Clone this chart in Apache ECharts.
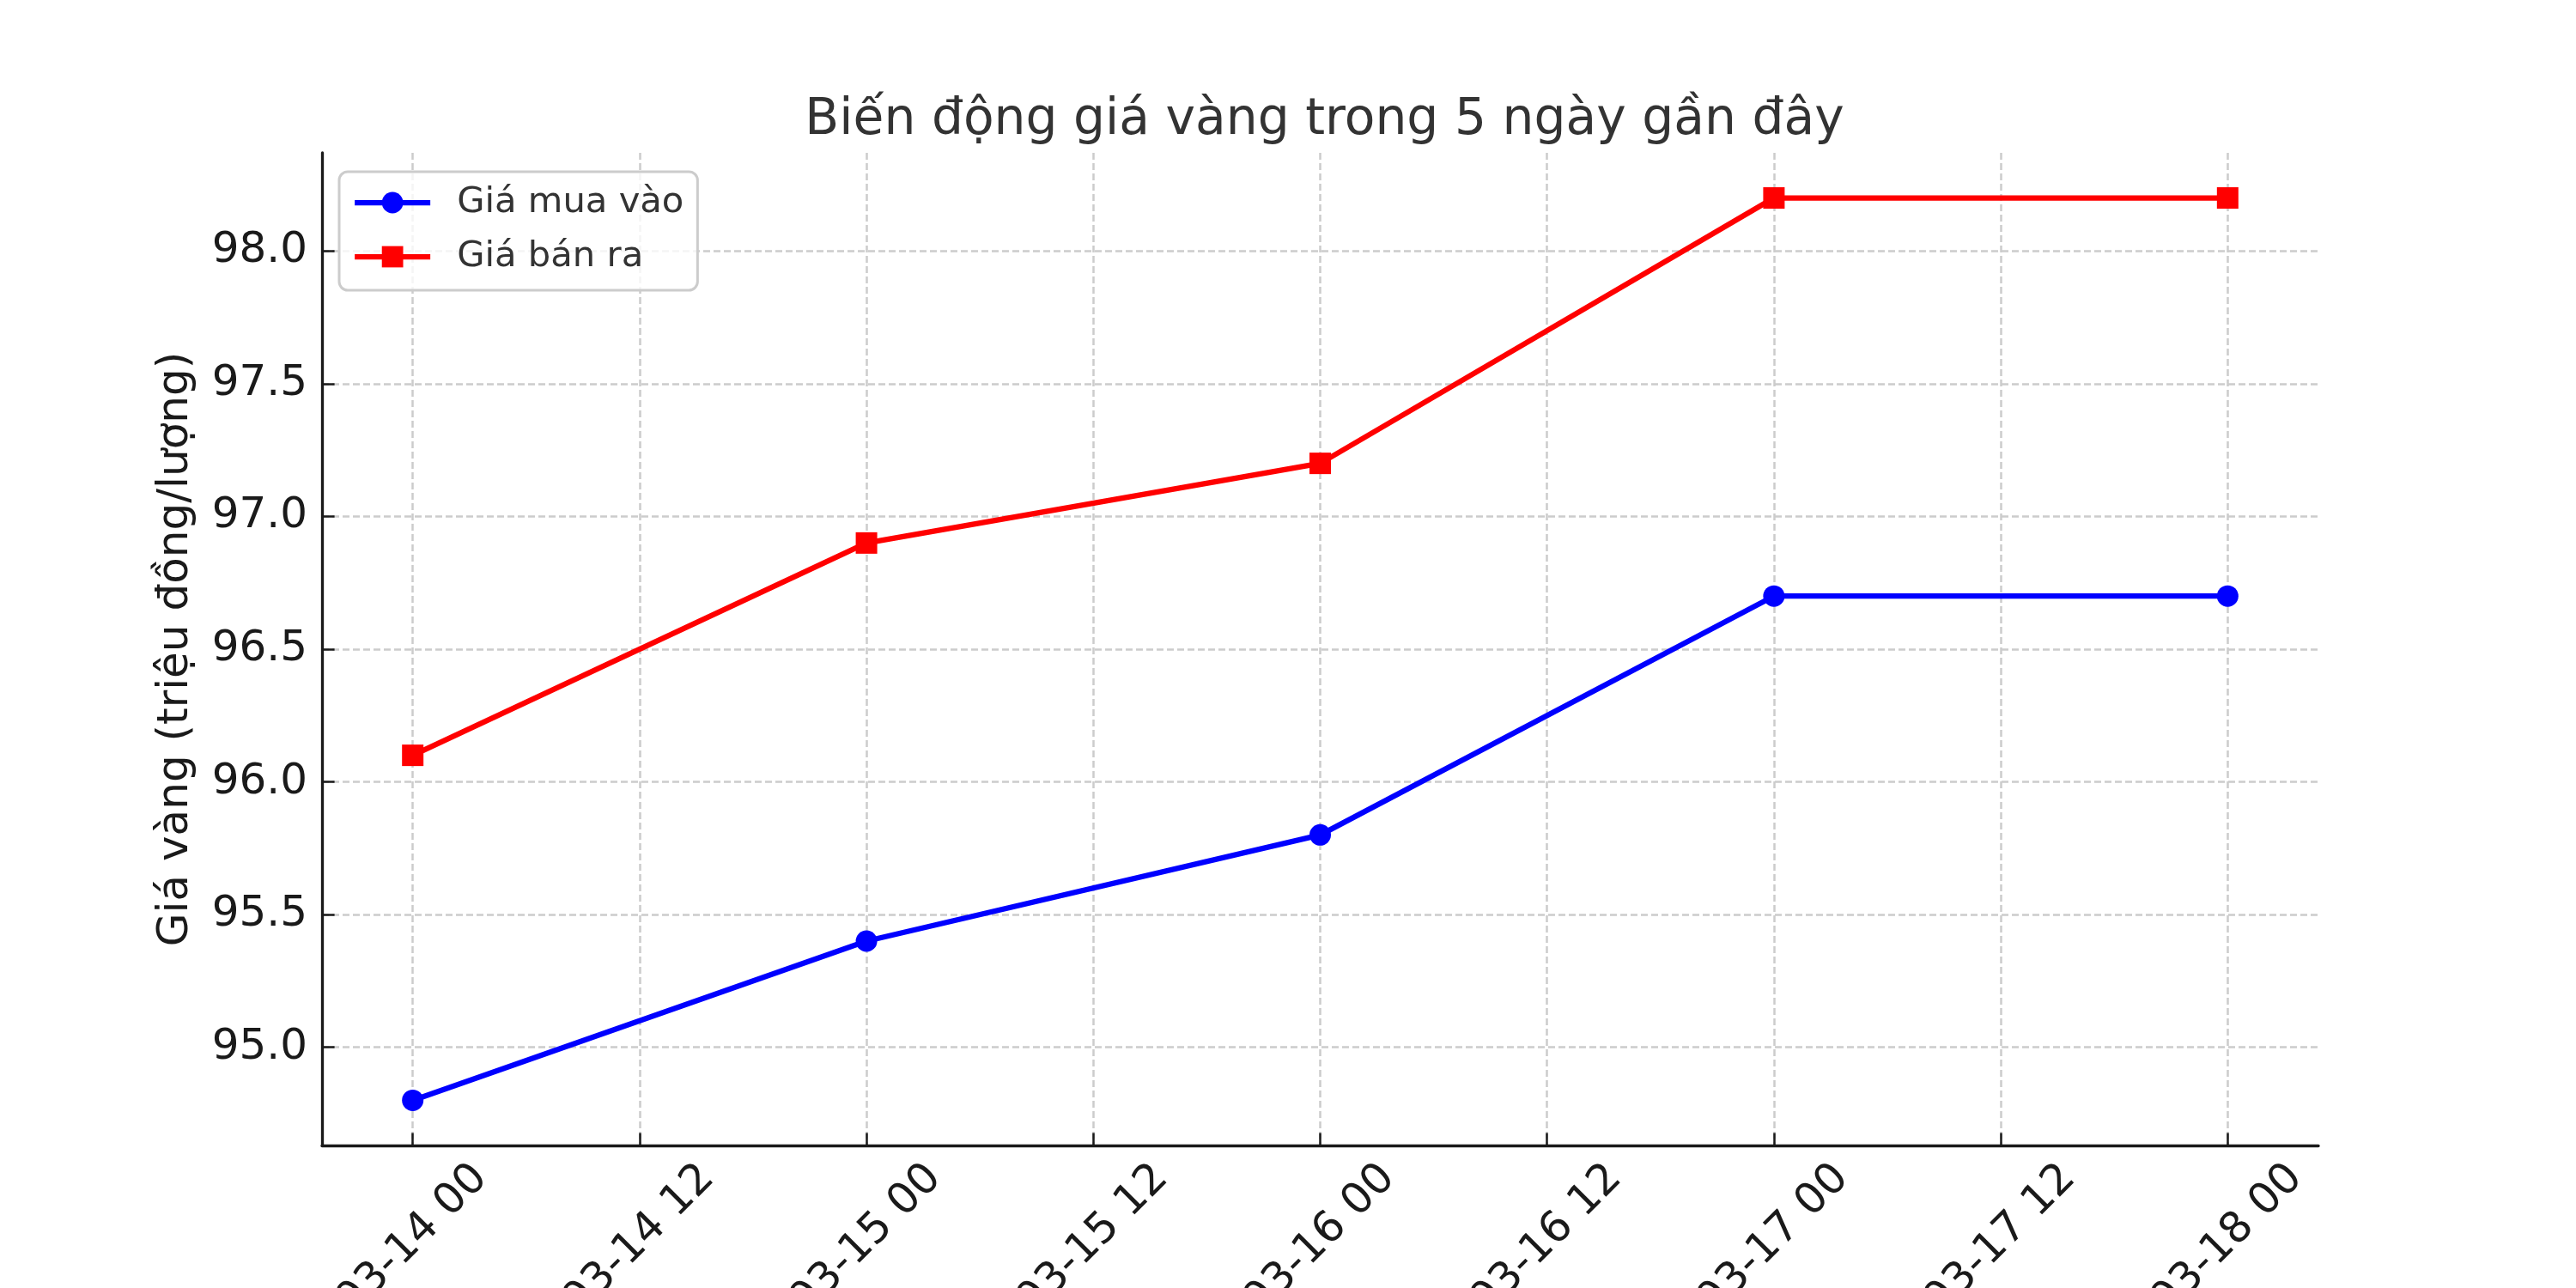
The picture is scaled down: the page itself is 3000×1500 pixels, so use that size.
<!DOCTYPE html>
<html><head><meta charset="utf-8">
<script src="https://cdn.jsdelivr.net/npm/echarts@6/dist/echarts.min.js"></script>
<style>html,body{margin:0;padding:0;background:#fff}#c{width:3000px;height:1500px}</style>
</head><body><div id="c"></div>
<script>
// ---- data ----
const dates = ['2025-03-14', '2025-03-15', '2025-03-16', '2025-03-17', '2025-03-18'];
const buyPrices = [94.8, 95.4, 95.8, 96.7, 96.7];   // Giá mua vào
const sellPrices = [96.1, 96.9, 97.2, 98.2, 98.2];  // Giá bán ra
const xTickTimes = ['2025-03-14T00', '2025-03-14T12', '2025-03-15T00', '2025-03-15T12', '2025-03-16T00',
                    '2025-03-16T12', '2025-03-17T00', '2025-03-17T12', '2025-03-18T00'];
const yTicks = [95.0, 95.5, 96.0, 96.5, 97.0, 97.5, 98.0];
const seriesNames = ['Giá mua vào', 'Giá bán ra'];
const titleText = 'Biến động giá vàng trong 5 ngày gần đây';
const yAxisName = 'Giá vàng (triệu đồng/lượng)';

// ---- helpers ----
function ts(s) {
  const [d, h] = s.split('T');
  const [y, m, dd] = d.split('-').map(Number);
  return Date.UTC(y, m - 1, dd, h ? Number(h) : 0);
}
function pad2(n) { return (n < 10 ? '0' : '') + n; }
function fmtX(v) {
  const d = new Date(v);
  return pad2(d.getUTCMonth() + 1) + '-' + pad2(d.getUTCDate()) + ' ' + pad2(d.getUTCHours());
}
const xs = dates.map(ts);
const xTicks = xTickTimes.map(ts);
const xSpan = xs[xs.length - 1] - xs[0];
const xMin = xs[0] - 0.05 * xSpan, xMax = xs[xs.length - 1] + 0.05 * xSpan;
const allY = buyPrices.concat(sellPrices);
const yLo = Math.min(...allY), yHi = Math.max(...allY), ySpan = yHi - yLo;
const yMin = yLo - 0.05 * ySpan, yMax = yHi + 0.05 * ySpan;

const FONT = 'DejaVu Sans';
const axisColor = '#1a1a1a';
const gridLine = { show: true, lineStyle: { type: [8, 4], color: '#cccccc', width: 2.5 } };

const chart = echarts.init(document.getElementById('c'), null, { renderer: 'canvas' });
chart.setOption({
  animation: false,
  backgroundColor: '#ffffff',
  title: {
    text: titleText, left: 1537.5, top: 107, textAlign: 'center',
    textStyle: { fontFamily: FONT, fontSize: 58.3, fontWeight: 'normal', color: '#333333' }
  },
  legend: {
    orient: 'vertical', left: 395, top: 200,
    itemWidth: 88, itemHeight: 31, itemGap: 21,
    padding: [15, 16, 18, 15],
    backgroundColor: 'rgba(255,255,255,0.8)', borderColor: '#cccccc', borderWidth: 3, borderRadius: 10,
    lineStyle: { width: 6.25 },
    textStyle: { fontFamily: FONT, fontSize: 41.7, color: '#333333', padding: [0, 0, 0, 26], lineHeight: 42 },
    data: seriesNames.map(n => ({ name: n, lineStyle: { width: 6.25 } }))
  },
  grid: { left: 375, right: 300, top: 178, bottom: 166, containLabel: false, outerBoundsMode: 'none' },
  xAxis: {
    type: 'value', min: xMin, max: xMax,
    axisLine: { show: true, onZero: false, lineStyle: { color: axisColor, width: 3.3 } },
    axisTick: { show: true, inside: true, length: 14.6, customValues: xTicks, lineStyle: { color: axisColor, width: 2.5 } },
    axisLabel: {
      customValues: xTicks, rotate: 45, align: 'center', verticalAlign: 'middle', margin: 110,
      fontFamily: FONT, fontSize: 50, color: axisColor, formatter: fmtX
    },
    splitLine: gridLine
  },
  yAxis: {
    type: 'value', min: yMin, max: yMax,
    name: yAxisName, nameLocation: 'middle', nameGap: 145,
    nameTextStyle: { fontFamily: FONT, fontSize: 50, color: axisColor },
    axisLine: { show: true, lineStyle: { color: axisColor, width: 3.3 } },
    axisTick: { show: true, inside: true, length: 14.6, customValues: yTicks, lineStyle: { color: axisColor, width: 2.5 } },
    axisLabel: {
      customValues: yTicks, margin: 17, fontFamily: FONT, fontSize: 50, color: axisColor,
      formatter: v => Number(v).toFixed(1)
    },
    splitLine: gridLine
  },
  series: [
    {
      name: seriesNames[0], type: 'line',
      data: xs.map((x, i) => [x, buyPrices[i]]),
      symbol: 'circle', symbolSize: 25,
      lineStyle: { color: '#0000ff', width: 6.25 },
      itemStyle: { color: '#0000ff' }
    },
    {
      name: seriesNames[1], type: 'line',
      data: xs.map((x, i) => [x, sellPrices[i]]),
      symbol: 'rect', symbolSize: 25,
      lineStyle: { color: '#ff0000', width: 6.25 },
      itemStyle: { color: '#ff0000' }
    }
  ]
});
</script>
</body></html>
